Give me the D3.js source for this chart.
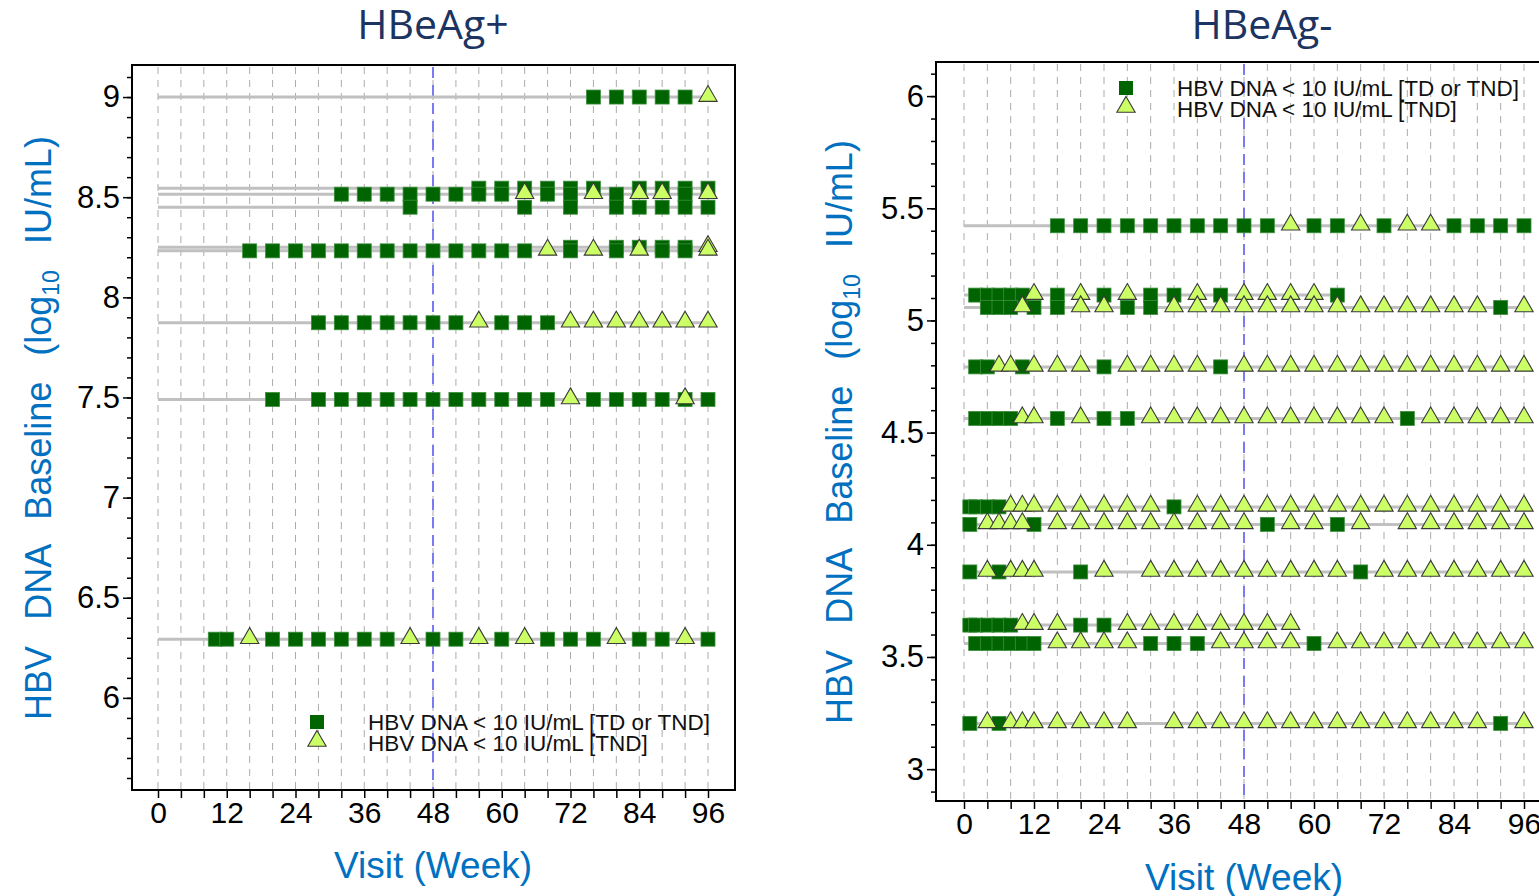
<!DOCTYPE html>
<html>
<head>
<meta charset="utf-8">
<title>HBV DNA baseline by visit</title>
<script src="https://cdnjs.cloudflare.com/ajax/libs/d3/7.8.5/d3.min.js"></script>
<style>
  html, body { margin:0; padding:0; background:white; overflow:hidden; }
  svg { display:block; }
  .tick text { font-family: "Liberation Sans", Arial, sans-serif; font-size:30px; fill:#000; }
</style>
</head>
<body>
<svg id="chart" width="1539" height="896"></svg>
<script>
// ---- data: HBeAg+ panel ----
var weekTicks = [0,4,8,12,16,20,24,28,32,36,40,44,48,52,56,60,64,68,72,76,80,84,88,92,96];
var weekLabels = [0,12,24,36,48,60,72,84,96];

var posBaseline = [9.0, 8.545, 8.515, 8.45, 8.25, 8.232, 7.873, 7.49, 6.293];
var posLastWeek = [96, 96, 96, 96, 96, 96, 96, 96, 96];
var posSquareWeeks = [
  [76,80,84,88,92],
  [56,60,64,68,72,76,84,88,92,96],
  [32,36,40,44,48,52,56,60,68,72,80,92],
  [44,64,72,80,84,88,92,96],
  [72,80,84,88,92],
  [16,20,24,28,32,36,40,44,48,52,56,60,64,72,80,88,92],
  [28,32,36,40,44,48,52,60,64,68],
  [20,28,32,36,40,44,48,52,56,60,64,68,76,80,84,88,92,96],
  [10,12,20,24,28,32,36,40,48,52,60,68,72,76,84,88,96]
];
var posTriangleWeeks = [
  [96],
  [],
  [64,76,84,88,96],
  [],
  [96],
  [68,76,84,96],
  [56,72,76,80,84,88,92,96],
  [72,92],
  [16,44,56,64,80,92]
];
var posMajorTicks = [6,6.5,7,7.5,8,8.5,9];

// ---- data: HBeAg- panel ----
var negBaseline = [5.422, 5.113, 5.058, 4.793, 4.563, 4.169, 4.091, 3.879, 3.642, 3.56, 3.204];
var negLastWeek = [96, 64, 96, 96, 96, 96, 96, 96, 56, 96, 96];
var negSquareWeeks = [
  [16,20,24,28,32,36,40,44,48,52,60,64,72,84,88,92,96],
  [2,4,6,8,10,16,24,32,36,44,64],
  [4,6,8,12,16,28,32,92],
  [2,4,10,24,44],
  [2,4,6,8,16,24,28,76],
  [1,2,4,6,36],
  [1,12,52,64],
  [1,6,20,68],
  [1,2,4,6,8,20,24],
  [2,4,6,8,10,12,32,36,40,60],
  [1,6,92]
];
var negTriangleWeeks = [
  [56,68,76,80],
  [12,20,28,40,48,52,56,60],
  [10,20,24,36,40,44,48,52,56,60,64,68,72,76,80,84,88,96],
  [6,8,12,16,20,28,32,36,40,48,52,56,60,64,68,72,76,80,84,88,92,96],
  [10,12,20,32,36,40,44,48,52,56,60,64,68,72,80,84,88,92,96],
  [8,10,12,16,20,24,28,32,40,44,48,52,56,60,64,68,72,76,80,84,88,92,96],
  [4,6,8,10,16,20,24,28,32,36,40,44,48,56,60,68,76,80,84,88,92,96],
  [4,8,10,12,24,32,36,40,44,48,52,56,60,64,72,76,80,84,88,92,96],
  [10,12,16,28,32,36,40,44,48,52,56],
  [16,20,24,28,44,48,52,56,64,68,72,76,80,84,88,92,96],
  [4,8,10,12,16,20,24,28,36,40,44,48,52,56,60,64,68,72,76,80,84,88,96]
];
var negMajorTicks = [3,3.5,4,4.5,5,5.5,6];

var legendLabels = ["HBV DNA < 10 IU/mL [TD or TND]", "HBV DNA < 10 IU/mL [TND]"];

var svg = d3.select("#chart");
var sqSize = 14;
var triShape = d3.symbol().type(d3.symbolTriangle).size(145);

function drawPanel(p) {
  var x = d3.scaleLinear().domain([0, 96]).range(p.xRange);
  var y = d3.scaleLinear().domain(p.yDomain).range(p.yRange);
  var g = svg.append("g");

  // vertical dashed grid every 4 weeks
  g.selectAll(".grid").data(weekTicks).enter().append("line")
    .attr("x1", d => x(d)).attr("x2", d => x(d))
    .attr("y1", p.box[1] + 2).attr("y2", p.box[3])
    .attr("stroke", "#ababab").attr("stroke-width", 1)
    .attr("stroke-dasharray", "7,6");

  // week 48 marker
  g.append("line")
    .attr("x1", x(48)).attr("x2", x(48))
    .attr("y1", p.box[1] + 2).attr("y2", p.box[3])
    .attr("stroke", "#7a7af5").attr("stroke-width", 2)
    .attr("stroke-dasharray", "11,7");

  // participant lines
  g.selectAll(".pline").data(p.base).enter().append("line")
    .attr("x1", x(0)).attr("x2", (d, i) => x(p.last[i]))
    .attr("y1", d => y(d)).attr("y2", d => y(d))
    .attr("stroke", "#c0c0c0").attr("stroke-width", 3);

  var sq = [], tri = [];
  p.base.forEach(function(b, i) {
    p.squares[i].forEach(w => sq.push([w, b]));
    p.triangles[i].forEach(w => tri.push([w, b]));
  });

  g.selectAll(".sq").data(sq).enter().append("rect")
    .attr("x", d => x(d[0]) - sqSize / 2).attr("y", d => y(d[1]) - sqSize / 2)
    .attr("width", sqSize).attr("height", sqSize)
    .attr("fill", "#006400").attr("stroke", "#3c8f3c").attr("stroke-width", 0.8);

  g.selectAll(".tri").data(tri).enter().append("path")
    .attr("d", triShape)
    .attr("transform", d => "translate(" + x(d[0]) + "," + (y(d[1]) - 1) + ")")
    .attr("fill", "#ccff66").attr("stroke", "#3a3a3a").attr("stroke-width", 1.1);

  // frame
  g.append("rect")
    .attr("x", p.box[0]).attr("y", p.box[1])
    .attr("width", p.box[2] - p.box[0]).attr("height", p.box[3] - p.box[1])
    .attr("fill", "none").attr("stroke", "#000").attr("stroke-width", 2);

  // x axis
  var xAxis = d3.axisBottom(x).tickValues(weekTicks).tickSize(8).tickPadding(4)
    .tickFormat(d => weekLabels.indexOf(d) >= 0 ? d : "");
  var gx = g.append("g").attr("transform", "translate(0," + p.box[3] + ")").call(xAxis);
  gx.select(".domain").remove();
  gx.selectAll(".tick line").attr("stroke", "#000").attr("stroke-width", 1.5);

  // y axis: minor and major ticks
  var lo = p.yDomain[0], hi = p.yDomain[1];
  var minor = d3.range(Math.ceil(lo * 10), Math.floor(hi * 10) + 1).map(v => v / 10);
  var gyMin = g.append("g").attr("transform", "translate(" + p.box[0] + ",0)")
    .call(d3.axisLeft(y).tickValues(minor).tickSize(5).tickFormat(""));
  gyMin.select(".domain").remove();
  gyMin.selectAll(".tick line").attr("stroke", "#000").attr("stroke-width", 1.5);
  var gyMaj = g.append("g").attr("transform", "translate(" + p.box[0] + ",0)")
    .call(d3.axisLeft(y).tickValues(p.major).tickSize(9).tickPadding(3).tickFormat(d3.format("")));
  gyMaj.select(".domain").remove();
  gyMaj.selectAll(".tick line").attr("stroke", "#000").attr("stroke-width", 1.5);
  gyMaj.selectAll(".tick text").style("font-size", "31px");

  // title
  svg.append("text").text(p.title)
    .attr("x", p.titleX).attr("y", 39).attr("text-anchor", "middle")
    .style("font-family", "'Open Sans', sans-serif").style("font-size", "41px")
    .style("fill", "#1c3461");

  // x title
  svg.append("text").text("Visit (Week)")
    .attr("x", x(48)).attr("y", p.xTitleY).attr("text-anchor", "middle")
    .style("font-family", "'Liberation Sans', Arial, sans-serif").style("font-size", "37px")
    .style("fill", "#0070c0");

  // y title
  var yt = svg.append("text")
    .attr("transform", "translate(" + p.yTitleX + "," + p.yTitleY + ") rotate(-90)")
    .attr("text-anchor", "middle")
    .style("font-family", "'Liberation Sans', Arial, sans-serif").style("font-size", "36px")
    .style("fill", "#0070c0").style("white-space", "pre").style("word-spacing", "3px");
  yt.append("tspan").text("HBV  DNA  Baseline  (log");
  yt.append("tspan").text("10").style("font-size", "23px").attr("dy", 8);
  yt.append("tspan").text("  IU/mL)").attr("dy", -8);

  // legend
  var lg = svg.append("g");
  lg.append("rect").attr("x", p.legend[0] - sqSize / 2).attr("y", p.legend[1] - sqSize / 2)
    .attr("width", sqSize).attr("height", sqSize).attr("fill", "#006400");
  lg.append("path").attr("d", triShape)
    .attr("transform", "translate(" + p.legend[0] + "," + (p.legend[1] + 19) + ")")
    .attr("fill", "#ccff66").attr("stroke", "#3a3a3a").attr("stroke-width", 1.1);
  legendLabels.forEach(function(t, i) {
    lg.append("text").text(t)
      .attr("x", p.legend[0] + 51).attr("y", p.legend[1] + 8 + i * 21)
      .style("font-family", "'Liberation Sans', Arial, sans-serif").style("font-size", "22.5px")
      .style("fill", "#111");
  });
}

drawPanel({
  title: "HBeAg+", titleX: 433,
  base: posBaseline, last: posLastWeek, squares: posSquareWeeks, triangles: posTriangleWeeks,
  major: posMajorTicks,
  xRange: [158, 708], yDomain: [5.54, 9.16], yRange: [790, 65],
  box: [132, 65, 735, 790],
  xTitleY: 878, yTitleX: 51, yTitleY: 428,
  legend: [317, 722]
});

drawPanel({
  title: "HBeAg-", titleX: 1262,
  base: negBaseline, last: negLastWeek, squares: negSquareWeeks, triangles: negTriangleWeeks,
  major: negMajorTicks,
  xRange: [964, 1524], yDomain: [2.858, 6.152], yRange: [801, 62],
  box: [936, 62, 1552, 801],
  xTitleY: 890, yTitleX: 852, yTitleY: 432,
  legend: [1126, 88]
});
</script>
</body>
</html>
